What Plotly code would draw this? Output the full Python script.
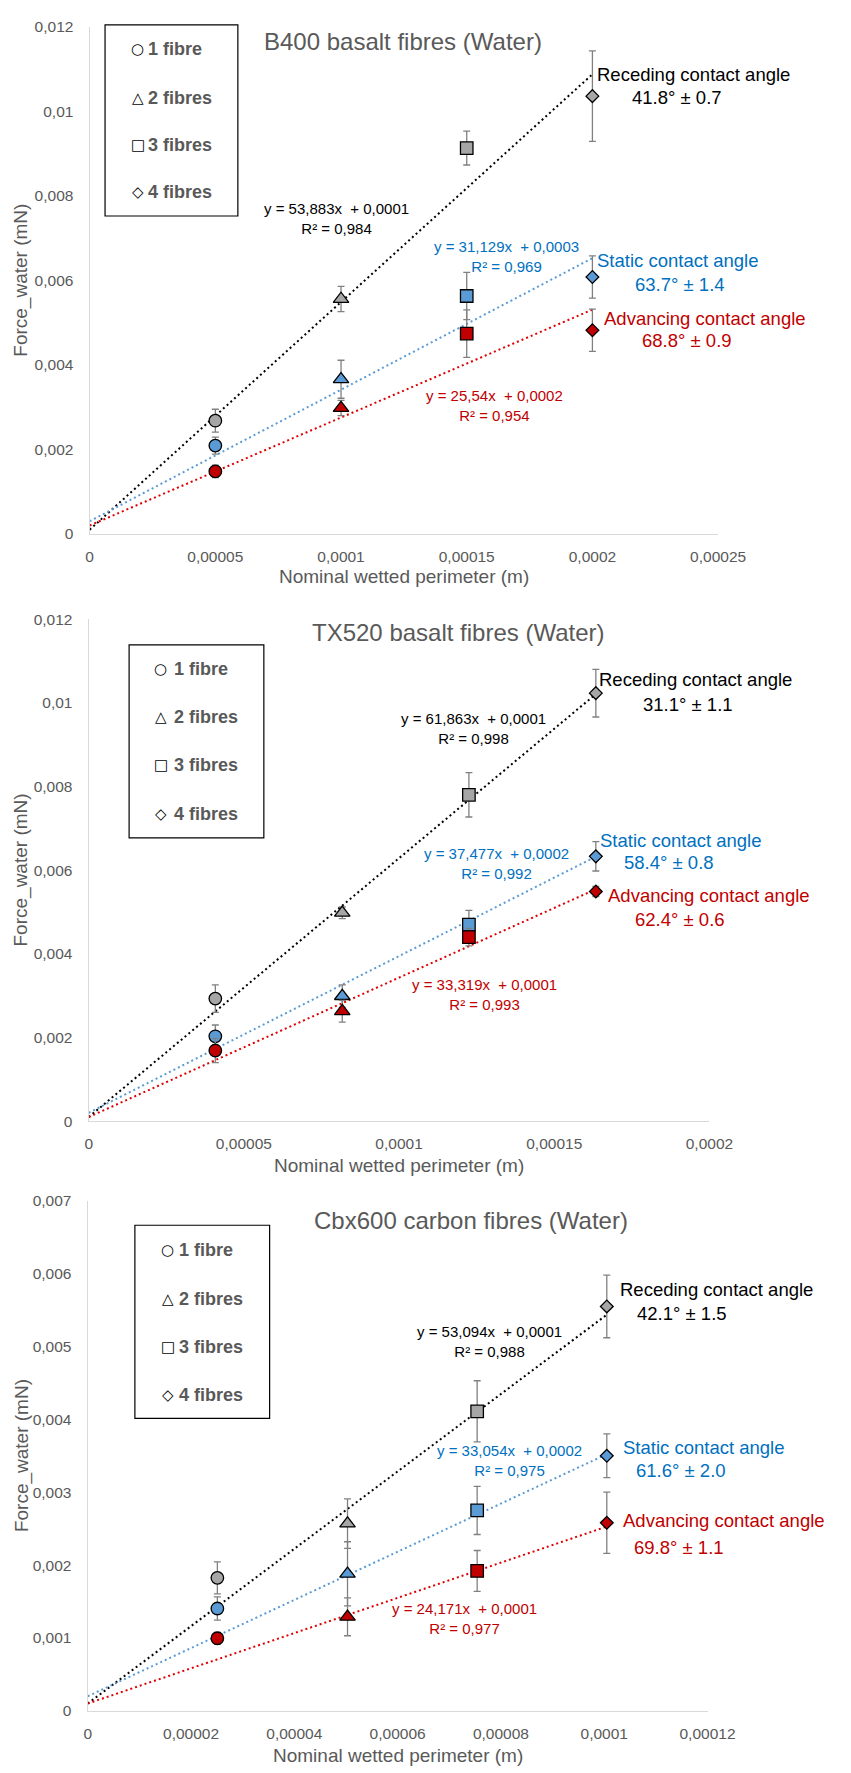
import plotly.graph_objects as go

W, H = 851, 1773

# ---------------- DATA ----------------
symbols = ["circle", "triangle-up", "square", "diamond"]
legend_labels = ["1 fibre", "2 fibres", "3 fibres", "4 fibres"]
legend_glyphs = ["○", "△", "□", "◇"]
series_names = ["Receding", "Static", "Advancing"]
angle_names = ["Receding contact angle", "Static contact angle", "Advancing contact angle"]

# Panel 1 : B400 basalt fibres
b400_x = [0.00005, 0.0001, 0.00015, 0.0002]
b400_rec = [0.00268, 0.00556, 0.00913, 0.01036]
b400_rec_err = [0.00027, 0.0003, 0.0004, 0.00107]
b400_sta = [0.00209, 0.00366, 0.00563, 0.00608]
b400_sta_err = [0.0002, 0.00045, 0.00056, 0.0005]
b400_adv = [0.00148, 0.00298, 0.00474, 0.00482]
b400_adv_err = [0.00015, 0.00018, 0.00056, 0.0005]
b400_slope = [53.883, 31.129, 25.54]
b400_icpt = [0.0001, 0.0003, 0.0002]
b400_eq = ["y = 53,883x  + 0,0001<br>R² = 0,984", "y = 31,129x  + 0,0003<br>R² = 0,969",
           "y = 25,54x  + 0,0002<br>R² = 0,954"]
b400_angles = ["41.8° ± 0.7", "63.7° ± 1.4", "68.8° ± 0.9"]
b400_xticks = [0, 0.00005, 0.0001, 0.00015, 0.0002, 0.00025]
b400_xtext = ["0", "0,00005", "0,0001", "0,00015", "0,0002", "0,00025"]
b400_yticks = [0, 0.002, 0.004, 0.006, 0.008, 0.01, 0.012]
b400_ytext = ["0", "0,002", "0,004", "0,006", "0,008", "0,01", "0,012"]

# Panel 2 : TX520 basalt fibres
tx_x = [0.0000408, 0.0000817, 0.0001225, 0.0001634]
tx_rec = [0.00293, 0.00498, 0.0078, 0.01023]
tx_rec_err = [0.00033, 0.00014, 0.00053, 0.00057]
tx_sta = [0.00203, 0.00299, 0.0047, 0.00633]
tx_sta_err = [0.00027, 0.00027, 0.00034, 0.00035]
tx_adv = [0.00169, 0.00263, 0.0044, 0.00549]
tx_adv_err = [0.00029, 0.00026, 0.00021, 0.00012]
tx_slope = [61.863, 37.477, 33.319]
tx_icpt = [0.0001, 0.0002, 0.0001]
tx_eq = ["y = 61,863x  + 0,0001<br>R² = 0,998", "y = 37,477x  + 0,0002<br>R² = 0,992",
         "y = 33,319x  + 0,0001<br>R² = 0,993"]
tx_angles = ["31.1° ± 1.1", "58.4° ± 0.8", "62.4° ± 0.6"]
tx_xticks = [0, 0.00005, 0.0001, 0.00015, 0.0002]
tx_xtext = ["0", "0,00005", "0,0001", "0,00015", "0,0002"]
tx_yticks = [0, 0.002, 0.004, 0.006, 0.008, 0.01, 0.012]
tx_ytext = ["0", "0,002", "0,004", "0,006", "0,008", "0,01", "0,012"]

# Panel 3 : Cbx600 carbon fibres
cbx_x = [0.0000251, 0.0000503, 0.0000754, 0.0001005]
cbx_rec = [0.001825, 0.00257, 0.00411, 0.00555]
cbx_rec_err = [0.00022, 0.00034, 0.00042, 0.00043]
cbx_sta = [0.001404, 0.00188, 0.00275, 0.0035]
cbx_sta_err = [0.00016, 0.00044, 0.00033, 0.0003]
cbx_adv = [0.000996, 0.00129, 0.00192, 0.00258]
cbx_adv_err = [0.00008, 0.00026, 0.00028, 0.00042]
cbx_slope = [53.094, 33.054, 24.171]
cbx_icpt = [0.0001, 0.0002, 0.0001]
cbx_eq = ["y = 53,094x  + 0,0001<br>R² = 0,988", "y = 33,054x  + 0,0002<br>R² = 0,975",
          "y = 24,171x  + 0,0001<br>R² = 0,977"]
cbx_angles = ["42.1° ± 1.5", "61.6° ± 2.0", "69.8° ± 1.1"]
cbx_xticks = [0, 0.00002, 0.00004, 0.00006, 0.00008, 0.0001, 0.00012]
cbx_xtext = ["0", "0,00002", "0,00004", "0,00006", "0,00008", "0,0001", "0,00012"]
cbx_yticks = [0, 0.001, 0.002, 0.003, 0.004, 0.005, 0.006, 0.007]
cbx_ytext = ["0", "0,001", "0,002", "0,003", "0,004", "0,005", "0,006", "0,007"]

titles = ["B400 basalt fibres (Water)", "TX520 basalt fibres (Water)", "Cbx600 carbon fibres (Water)"]

# ---------------- STYLE / LAYOUT ----------------
FONT = "Arial, 'Liberation Sans', sans-serif"
GREY_TXT = "#595959"
marker_fill = ["#A6A6A6", "#5B9BD5", "#C00000"]
line_col = ["#000000", "#5B9BD5", "#E00000"]
text_col = ["#000000", "#0070C0", "#C00000"]
marker_sizes = [12.5, 13.5, 12.5, 9.8]


def px(x):
    return x / W


def py(y):
    return 1 - y / H


panels = [
    dict(x=b400_x, ys=[b400_rec, b400_sta, b400_adv], errs=[b400_rec_err, b400_sta_err, b400_adv_err],
         slope=b400_slope, icpt=b400_icpt, eq=b400_eq, ang=b400_angles,
         xt=b400_xticks, xtt=b400_xtext, yt=b400_yticks, ytt=b400_ytext,
         xr=[0, 0.00025], yr=[0, 0.012], xpx=(89, 742), ypx=(530, 18),
         title=(415, 33),
         box=(105, 16, 243, 209), sym_x=139, txt_x=148, rows=[40, 90, 137, 185],
         eqpos=[(346, 212), (522, 250), (510, 400)],
         ang1=[(716, 66), (700, 254), (728, 313)],
         ang2=[(699, 89), (702, 278), (710, 335)],
         xtitle_y=573),
    dict(x=tx_x, ys=[tx_rec, tx_sta, tx_adv], errs=[tx_rec_err, tx_sta_err, tx_adv_err],
         slope=tx_slope, icpt=tx_icpt, eq=tx_eq, ang=tx_angles,
         xt=tx_xticks, xtt=tx_xtext, yt=tx_yticks, ytt=tx_ytext,
         xr=[0, 0.0002], yr=[0, 0.012], xpx=(88, 733), ypx=(1123, 616),
         title=(472, 630),
         box=(130, 642, 270, 837), sym_x=163, txt_x=175, rows=[666, 715, 763, 813],
         eqpos=[(488, 726), (512, 863), (499, 995)],
         ang1=[(719, 677), (703, 840), (733, 895)],
         ang2=[(711, 702), (691, 862), (702, 919)],
         xtitle_y=1168),
    dict(x=cbx_x, ys=[cbx_rec, cbx_sta, cbx_adv], errs=[cbx_rec_err, cbx_sta_err, cbx_adv_err],
         slope=cbx_slope, icpt=cbx_icpt, eq=cbx_eq, ang=cbx_angles,
         xt=cbx_xticks, xtt=cbx_xtext, yt=cbx_yticks, ytt=cbx_ytext,
         xr=[0, 0.00012], yr=[0, 0.007], xpx=(87, 731), ypx=(1718.3, 1203.3),
         title=(485, 1223),
         box=(136, 1228, 276, 1423), sym_x=170, txt_x=180, rows=[1253, 1302, 1351, 1399],
         eqpos=[(504, 1345), (525, 1466), (478, 1625)],
         ang1=[(740, 1293), (727, 1452), (748, 1526)],
         ang2=[(704, 1317), (703, 1476), (701, 1553)],
         xtitle_y=1763),
]

fig = go.Figure()
annotations = []
shapes = []
layout_axes = {}


def ann(text, x, y, size, color, xanchor="center", family=FONT, **kw):
    annotations.append(dict(text=text, x=px(x), y=py(y), xref="paper", yref="paper",
                            showarrow=False, xanchor=xanchor, yanchor="middle",
                            font=dict(family=family, size=size, color=color), **kw))


for i, p in enumerate(panels):
    sfx = "" if i == 0 else str(i + 1)
    xa, ya = "x" + sfx, "y" + sfx
    # trendlines
    for k in range(3):
        xs = [0, p["x"][-1]]
        fig.add_trace(go.Scatter(
            x=xs, y=[p["slope"][k] * v + p["icpt"][k] for v in xs],
            mode="lines", line=dict(color=line_col[k], width=2, dash="2px,3px"),
            xaxis=xa, yaxis=ya, showlegend=False, hoverinfo="skip"))
    # points
    for k in range(3):
        fig.add_trace(go.Scatter(
            x=p["x"], y=p["ys"][k], mode="markers", name=series_names[k],
            marker=dict(symbol=symbols, size=marker_sizes, color=marker_fill[k], opacity=1,
                        line=dict(color="#000000", width=1.3)),
            error_y=dict(type="data", array=p["errs"][k], visible=True,
                         color="#808080", thickness=1.3, width=3.5),
            xaxis=xa, yaxis=ya, showlegend=False))

    x0, x1 = p["xpx"]
    yb, yt = p["ypx"]
    layout_axes["xaxis" + sfx] = dict(
        domain=[px(x0), px(x1)], range=p["xr"], anchor=ya,
        tickvals=p["xt"], ticktext=p["xtt"], showgrid=False, zeroline=False,
        showline=True, linecolor="#D9D9D9", linewidth=1.3, ticks="",
        ticklabelstandoff=8,
        tickfont=dict(family=FONT, size=15.5, color=GREY_TXT))
    layout_axes["yaxis" + sfx] = dict(
        domain=[py(yb), py(yt)], range=p["yr"], anchor=xa,
        tickvals=p["yt"], ticktext=p["ytt"], showgrid=False, zeroline=False,
        showline=True, linecolor="#D9D9D9", linewidth=1.3, ticks="",
        ticklabelstandoff=12,
        tickfont=dict(family=FONT, size=15.5, color=GREY_TXT))

    tx, ty = p["title"]
    ann(titles[i], tx, ty, 24, GREY_TXT)
    ann("Nominal wetted perimeter (m)", (x0 + x1) / 2, p["xtitle_y"], 19, GREY_TXT)
    ann("Force_water (mN)", 18, (yb + yt) / 2, 19, GREY_TXT, textangle=-90)

    bx0, by0, bx1, by1 = p["box"]
    shapes.append(dict(type="rect", xref="paper", yref="paper",
                       x0=px(bx0), x1=px(bx1), y0=py(by1), y1=py(by0),
                       line=dict(color="#000000", width=1.2), fillcolor="white"))
    for r, ry in enumerate(p["rows"]):
        ann(legend_glyphs[r], p["sym_x"], ry, 15, "#000000", family="DejaVu Sans")
        ann("<b>" + legend_labels[r] + "</b>", p["txt_x"], ry, 18, GREY_TXT, xanchor="left")

    for k in range(3):
        ex, ey = p["eqpos"][k]
        ann(p["eq"][k], ex, ey, 15, text_col[k], align="center")
        a1x, a1y = p["ang1"][k]
        a2x, a2y = p["ang2"][k]
        ann(angle_names[k], a1x, a1y, 18.5, text_col[k])
        ann(p["ang"][k], a2x, a2y, 18.5, text_col[k])

fig.update_layout(
    width=W, height=H, margin=dict(l=0, r=0, t=0, b=0), autosize=False,
    paper_bgcolor="white", plot_bgcolor="white",
    showlegend=False, annotations=annotations, shapes=shapes,
    **layout_axes)

post = (
    "document.documentElement.style.margin='0';"
    "document.documentElement.style.overflow='hidden';"
    "document.body.style.margin='0';document.body.style.padding='0';"
    "document.body.style.overflow='hidden';"
    "var g=document.getElementsByClassName('plotly-graph-div')[0];"
    "g.style.position='absolute';g.style.left='0px';g.style.top='0px';"
)
fig.write_html("out.html", config={"displayModeBar": False}, post_script=post)
